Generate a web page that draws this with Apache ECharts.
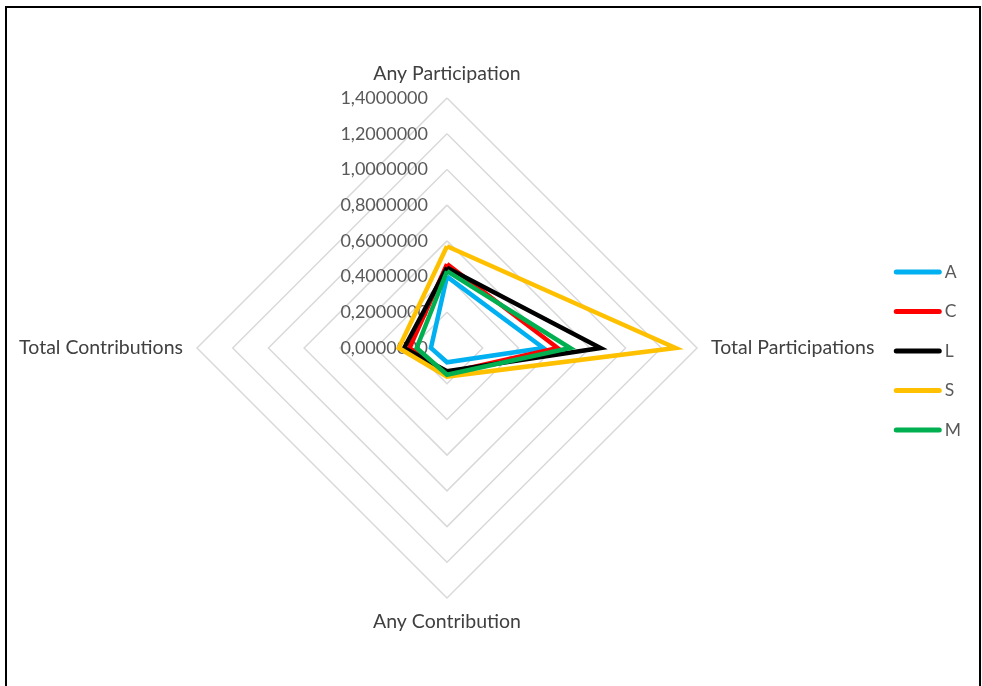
<!DOCTYPE html>
<html>
<head>
<meta charset="utf-8">
<script src="https://cdn.jsdelivr.net/npm/echarts@6/dist/echarts.min.js"></script>
<style>
  html, body { margin: 0; padding: 0; background: #fff; }
  #chart { position: absolute; left: 0; top: 0; width: 982px; height: 686px; }
  #frame { position: absolute; left: 5px; top: 6px; width: 972px; height: 700px; border: 2px solid #000; pointer-events: none; }
</style>
</head>
<body>
<div id="chart"></div>
<div id="frame"></div>
<script>
// Axes of the radar, listed clockwise from the top
const axisNames = ['Any Participation', 'Total Participations', 'Any Contribution', 'Total Contributions'];
const axisMax = 1.4;
const axisSplits = 7;

// Group values, one per axis in the order above
const seriesNames = ['A', 'C', 'L', 'S', 'M'];
const valuesA = [0.40, 0.54, 0.08, 0.09];
const valuesC = [0.47, 0.62, 0.14, 0.21];
const valuesL = [0.45, 0.86, 0.13, 0.24];
const valuesS = [0.57, 1.28, 0.16, 0.27];
const valuesM = [0.43, 0.69, 0.15, 0.17];
const seriesColors = ['#00b0f0', '#ff0000', '#000000', '#ffc000', '#00b050'];

const allValues = [valuesA, valuesC, valuesL, valuesS, valuesM];

// ECharts lays indicators out counter-clockwise; reorder so they read clockwise
const order = [0, 3, 2, 1];
const indicators = order.map((i, k) => ({
  name: axisNames[i],
  max: axisMax,
  min: 0,
  axisLabel: { show: k === 0 }
}));

const fontFamily = 'Lato, "Open Sans", sans-serif';

const chart = echarts.init(document.getElementById('chart'), null, { renderer: 'canvas' });
chart.setOption({
  animation: false,
  legend: {
    orient: 'vertical',
    right: 16,
    top: 258,
    itemWidth: 48,
    itemHeight: 5,
    itemGap: 21.5,
    icon: 'path://M2.5,0 H45.5 A2.5,2.5 0 0 1 45.5,5 H2.5 A2.5,2.5 0 0 1 2.5,0 Z',
    textStyle: { color: '#595959', fontSize: 17.5, fontFamily: fontFamily, padding: [0, 0, 0, -2] },
    data: seriesNames
  },
  radar: {
    center: [447, 348],
    radius: 250,
    startAngle: 90,
    shape: 'polygon',
    splitNumber: axisSplits,
    indicator: indicators,
    axisName: { color: '#404040', fontSize: 19.5, fontFamily: fontFamily },
    nameGap: 14,
    axisLine: { show: false },
    axisTick: { show: false },
    splitArea: { show: false },
    splitLine: { lineStyle: { color: '#d9d9d9', width: 1.5 } },
    axisLabel: {
      show: true,
      color: '#595959',
      fontSize: 18,
      fontFamily: fontFamily,
      margin: 19,
      formatter: v => v.toFixed(7).replace('.', ',')
    }
  },
  series: seriesNames.map((name, s) => ({
    name: name,
    type: 'radar',
    symbol: 'none',
    color: seriesColors[s],
    lineStyle: { width: 4.5, color: seriesColors[s], join: 'miter' },
    data: [{ name: name, value: order.map(i => allValues[s][i]) }]
  }))
});
</script>
</body>
</html>
